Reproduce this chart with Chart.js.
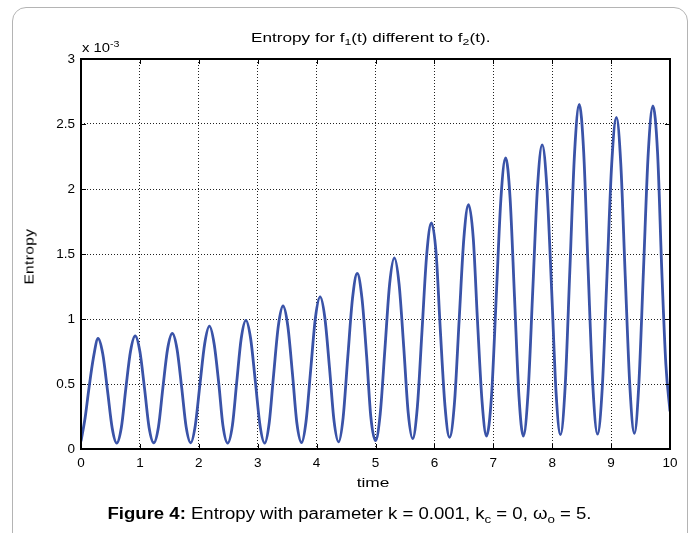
<!DOCTYPE html>
<html>
<head>
<meta charset="utf-8">
<script src="https://cdn.jsdelivr.net/npm/chart.js@4"></script>
<style>
  html, body { margin:0; padding:0; background:#fff; width:696px; height:533px; overflow:hidden; }
  #wrap { position:relative; width:696px; height:533px; font-family:"Liberation Sans", Arial, sans-serif; color:#000; }
  #frame { position:absolute; left:12px; top:7px; width:676px; height:540px; border:1.5px solid #b4b4b4; border-radius:14px; box-sizing:border-box; }
  canvas { position:absolute; left:0; top:0; }
  .t { position:absolute; white-space:nowrap; line-height:1; font-weight:normal; }
  sub { font-size:72%; vertical-align:-0.35em; line-height:0; }
  sup { font-size:72%; vertical-align:0.55em; line-height:0; }
</style>
</head>
<body>
<div id="wrap">
  <div id="frame"></div>
  <canvas id="c" width="696" height="533"></canvas>
  <div class="t" id="title" style="left:251px; top:31px; font-size:13px; transform:scaleX(1.32); transform-origin:left center;">Entropy for f<sub>1</sub>(t) different to f<sub>2</sub>(t).</div>
  <div class="t" id="scale" style="left:82px; top:41px; font-size:13px; transform:scaleX(1.14); transform-origin:left center;">x 10<sup>-3</sup></div>
  <div class="t" id="xt" style="left:333px; top:476px; font-size:13px; width:80px; text-align:center; transform:scaleX(1.33);">time</div>
  <div class="t" id="yt" style="left:23px; top:217px; font-size:13.5px; height:80px; text-align:center; writing-mode:vertical-rl; transform:rotate(180deg) scaleY(1.15); letter-spacing:0.3px;">Entropy</div>
  <div class="t" id="cap" style="left:0; width:699px; text-align:center; top:506px; font-size:16px; transform:scaleX(1.16);"><b>Figure 4:</b> Entropy with parameter k = 0.001, k<sub>c</sub> = 0, ω<sub>o</sub> = 5.</div>
</div>
<script>
// time samples
const times = [
  0, 0.07, 0.13, 0.21, 0.29, 0.37, 0.45, 0.53,
  0.606, 0.685, 0.76, 0.84, 0.92, 1.0, 1.08, 1.155,
  1.235, 1.315, 1.39, 1.47, 1.55, 1.63, 1.71, 1.785,
  1.862, 1.94, 2.02, 2.10, 2.18, 2.26, 2.34, 2.41,
  2.49, 2.57, 2.645, 2.72, 2.80, 2.88, 2.96, 3.04,
  3.118, 3.195, 3.27, 3.35, 3.43, 3.51, 3.59, 3.665,
  3.745, 3.82, 3.90, 3.98, 4.06, 4.14, 4.22, 4.295,
  4.373, 4.45, 4.53, 4.61, 4.69, 4.77, 4.85, 4.92,
  5.0, 5.08, 5.16, 5.24, 5.32, 5.40, 5.48, 5.555,
  5.63, 5.71, 5.79, 5.87, 5.95, 6.03, 6.10, 6.18,
  6.257, 6.34, 6.42, 6.50, 6.58, 6.66, 6.73, 6.81,
  6.885, 6.97, 7.05, 7.13, 7.21, 7.285, 7.36, 7.435,
  7.51, 7.59, 7.67, 7.75, 7.83, 7.91, 7.99, 8.065,
  8.14, 8.22, 8.30, 8.38, 8.46, 8.535, 8.61, 8.69,
  8.77, 8.85, 8.93, 9.01, 9.09, 9.165, 9.24, 9.32,
  9.395, 9.47, 9.55, 9.63, 9.71, 9.79, 9.86, 9.93, 10.0
];
// entropy values, in units of 1e-3
const entropy = [
  0.06, 0.24, 0.45, 0.70, 0.85, 0.73, 0.45, 0.16,
  0.045, 0.165, 0.46, 0.75, 0.87, 0.75, 0.46, 0.168,
  0.048, 0.17, 0.47, 0.77, 0.89, 0.77, 0.47, 0.17,
  0.048, 0.18, 0.50, 0.81, 0.945, 0.81, 0.50, 0.18,
  0.045, 0.18, 0.52, 0.85, 0.99, 0.85, 0.52, 0.18,
  0.045, 0.20, 0.57, 0.945, 1.10, 0.95, 0.58, 0.20,
  0.05, 0.21, 0.61, 1.01, 1.17, 1.01, 0.62, 0.22,
  0.055, 0.24, 0.71, 1.16, 1.35, 1.16, 0.71, 0.25,
  0.065, 0.27, 0.77, 1.27, 1.47, 1.27, 0.78, 0.28,
  0.08, 0.32, 0.91, 1.50, 1.74, 1.50, 0.92, 0.33,
  0.09, 0.35, 0.99, 1.62, 1.88, 1.62, 1.00, 0.36,
  0.10, 0.41, 1.17, 1.93, 2.24, 1.93, 1.17, 0.41,
  0.10, 0.43, 1.22, 2.01, 2.34, 2.01, 1.23, 0.44,
  0.11, 0.48, 1.38, 2.28, 2.65, 2.28, 1.38, 0.485,
  0.115, 0.47, 1.33, 2.19, 2.55, 2.19, 1.33, 0.47,
  0.12, 0.49, 1.38, 2.27, 2.64, 2.27, 1.38, 0.65, 0.29
];
const xTicks = [0,1,2,3,4,5,6,7,8,9,10];
const yTicks = [0, 0.5, 1, 1.5, 2, 2.5, 3];

const points = times.map((t, i) => ({ x: t, y: entropy[i] }));

const boxPlugin = {
  id: 'box',
  afterDatasetsDraw(chart) {
    const { ctx, chartArea: a, scales } = chart;
    ctx.save();
    ctx.strokeStyle = '#000';
    ctx.lineWidth = 1;
    const L = 5;
    ctx.beginPath();
    xTicks.forEach(v => {
      const px = Math.round(scales.x.getPixelForValue(v)) + 0.5;
      ctx.moveTo(px, a.bottom); ctx.lineTo(px, a.bottom - L);
      ctx.moveTo(px, a.top); ctx.lineTo(px, a.top + L);
    });
    yTicks.forEach(v => {
      const py = Math.round(scales.y.getPixelForValue(v)) + 0.5;
      ctx.moveTo(a.left, py); ctx.lineTo(a.left + L, py);
      ctx.moveTo(a.right, py); ctx.lineTo(a.right - L, py);
    });
    ctx.stroke();
    ctx.lineWidth = 2;
    ctx.strokeRect(a.left, a.top, a.right - a.left, a.bottom - a.top);
    ctx.restore();
  }
};

new Chart(document.getElementById('c'), {
  type: 'line',
  data: {
    datasets: [{
      data: points,
      borderColor: '#3a53a8',
      borderWidth: 2.8,
      pointRadius: 0,
      fill: false,
      cubicInterpolationMode: 'monotone'
    }]
  },
  options: {
    responsive: false,
    devicePixelRatio: 1,
    animation: false,
    layout: { padding: { left: 0, top: 59, right: 26, bottom: 54 } },
    plugins: { legend: { display: false }, tooltip: { enabled: false } },
    scales: {
      x: {
        type: 'linear', min: 0, max: 10,
        afterFit(s) { s.height = 30; },
        afterBuildTicks(s) { s.ticks = xTicks.map(v => ({ value: v })); },
        grid: { color: '#222', lineWidth: 1, drawTicks: false },
        border: { display: false, dash: [1, 2] },
        ticks: { color: '#000', padding: 6, font: { family: 'Liberation Sans, Arial', size: 13.5 }, maxRotation: 0, callback: v => String(v) }
      },
      y: {
        type: 'linear', min: 0, max: 3,
        afterFit(s) { s.width = 81; },
        afterBuildTicks(s) { s.ticks = yTicks.map(v => ({ value: v })); },
        grid: { color: '#222', lineWidth: 1, drawTicks: false },
        border: { display: false, dash: [1, 2] },
        ticks: { color: '#000', padding: 6, font: { family: 'Liberation Sans, Arial', size: 13.5 }, callback: v => String(v) }
      }
    }
  },
  plugins: [boxPlugin]
});
</script>
</body>
</html>
